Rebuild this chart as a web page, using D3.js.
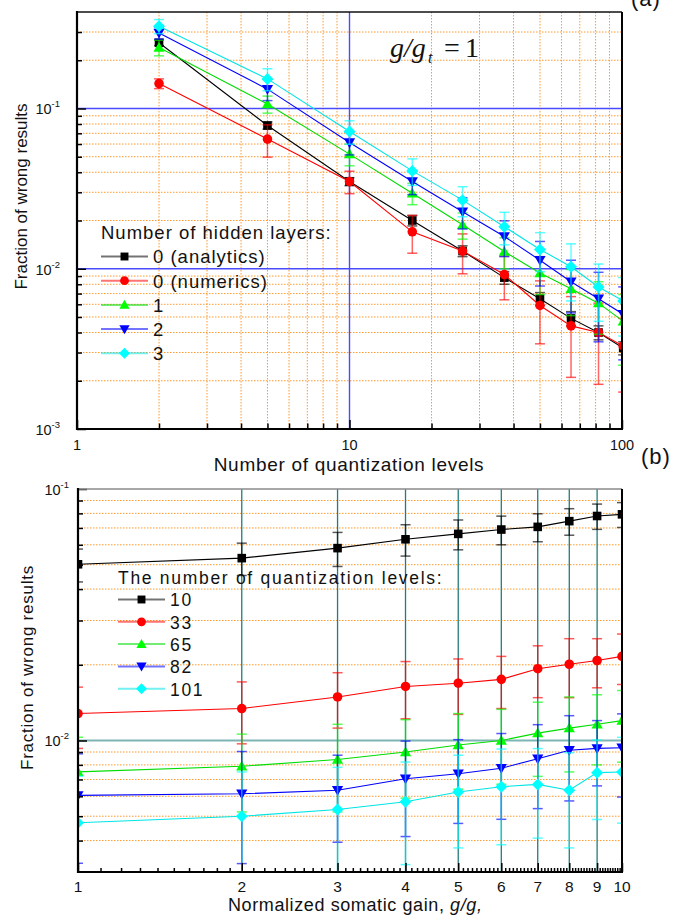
<!DOCTYPE html>
<html><head><meta charset="utf-8">
<script src="https://cdn.jsdelivr.net/npm/d3@7"></script>
<style>html,body{margin:0;padding:0;background:#fff}svg{display:block}</style>
</head><body>
<div id="chart"></div>
<script>
// ---------- data: panel (a) ----------
const quantLevels = [2, 5, 10, 17, 26, 37, 50, 65, 82, 101];
const analytics    = [0.257, 0.0783, 0.035, 0.020, 0.0129, 0.0088, 0.0065, 0.0049, 0.0040, 0.0032];
const analyticsErr = [0.010, 0.004, 0.002, 0.0015, 0.001, 0.0008, 0.0006, 0.0005, 0.0004, 0.0003];
const numerics     = [0.143, 0.0644, 0.035, 0.017, 0.0129, 0.0092, 0.0059, 0.0044, 0.0040, 0.0033];
const numericsErr  = [0.010, 0.0147, 0.0056, 0.0045, 0.0036, 0.0028, 0.0025, 0.0023, 0.0021, 0.0016];
const layers1      = [0.240, 0.1065, 0.0519, 0.0296, 0.0188, 0.0128, 0.0094, 0.0075, 0.0061, 0.0047];
const layers1Err   = [0.027, 0.013, 0.008, 0.0045, 0.0035, 0.0028, 0.0025, 0.0024, 0.0022, 0.0022];
const layers2      = [0.296, 0.132, 0.0613, 0.035, 0.0227, 0.0159, 0.0113, 0.0083, 0.0065, 0.0052];
const layers2Err   = [0.025, 0.020, 0.010, 0.006, 0.005, 0.004, 0.0035, 0.003, 0.003, 0.0025];
const layers3      = [0.326, 0.153, 0.0718, 0.0408, 0.0268, 0.0183, 0.0132, 0.0103, 0.0077, 0.0063];
const layers3Err   = [0.033, 0.024, 0.012, 0.0077, 0.0057, 0.0042, 0.0036, 0.004, 0.003, 0.0025];
const legendA = ["0 (analytics)", "0 (numerics)", "1", "2", "3"];

// ---------- data: panel (b) ----------
const gains = [1, 2, 3, 4, 5, 6, 7, 8, 9, 10];
const q10    = [0.0502, 0.0531, 0.0582, 0.0631, 0.0663, 0.0690, 0.0707, 0.0745, 0.0781, 0.0793];
const q10Err = [0.0075, 0.0078, 0.009, 0.009, 0.009, 0.009, 0.009, 0.009, 0.009, 0.009];
const q33    = [0.0128, 0.0134, 0.0149, 0.0164, 0.0169, 0.0175, 0.0193, 0.0201, 0.0208, 0.0216];
const q33Err = [0.0035, 0.0037, 0.0037, 0.0042, 0.0042, 0.0041, 0.0045, 0.0053, 0.0046, 0.0049];
const q65    = [0.0075, 0.0079, 0.0084, 0.0090, 0.0096, 0.0100, 0.0107, 0.0112, 0.0116, 0.0120];
const q65Err = [0.0028, 0.0027, 0.0032, 0.0031, 0.0032, 0.0033, 0.0035, 0.0037, 0.0036, 0.0038];
const q82    = [0.00605, 0.00614, 0.00634, 0.00705, 0.00738, 0.00776, 0.00846, 0.00915, 0.0093, 0.00936];
const q82Err = [0.0028, 0.0029, 0.0024, 0.0029, 0.0027, 0.0029, 0.0031, 0.0034, 0.0027, 0.0034];
const q101   = [0.00471, 0.0050, 0.00532, 0.00571, 0.00624, 0.00655, 0.00669, 0.00634, 0.00745, 0.00749];
const q101Err= [0.0025, 0.0025, 0.0025, 0.0025, 0.0025, 0.0027, 0.0026, 0.0026, 0.0026, 0.0028];
const legendB = ["10", "33", "65", "82", "101"];

// tick values
const xMajorA = [1, 10, 100];
const xMinorA = [2,3,4,5,6,7,8,9,20,30,40,50,60,70,80,90];
const yMajorA = [0.001, 0.01, 0.1];
const yMinorA = [0.002,0.003,0.004,0.005,0.006,0.007,0.008,0.009,0.02,0.03,0.04,0.05,0.06,0.07,0.08,0.09,0.2,0.3];
const yLabelsA = [["10","-3"],["10","-2"],["10","-1"]];
const xMajorB = [1,2,3,4,5,6,7,8,9,10];
const xMinorB = d3.range(11, 100).filter(v => v % 10 !== 0).map(v => v / 10);
const yMajorB = [0.01, 0.1];
const yMinorB = [0.004,0.005,0.006,0.007,0.008,0.009,0.02,0.03,0.04,0.05,0.06,0.07,0.08,0.09];
const yLabelsB = [["10","-2"],["10","-1"]];

// ---------- styles ----------
const colors = ["#000000", "#ff0000", "#00ff00", "#0000ff", "#00ffff"];
const lineColors = ["#000000", "#ff0000", "#00dd00", "#0000ff", "#00e5e5"];
const shapes = ["square", "circle", "triUp", "triDown", "diamond"];
const SANS = "'Liberation Sans', Arial, Helvetica, sans-serif";
const SERIF = "'Liberation Serif', 'Times New Roman', serif";

const W = 675, H = 917;
const svg = d3.select("#chart").append("svg").attr("width", W).attr("height", H)
  .style("font-family", SANS);

function markerPath(shape) {
  switch (shape) {
    case "square": return "M-4.3,-4.3H4.3V4.3H-4.3Z";
    case "circle": return d3.symbol(d3.symbolCircle, 72)();
    case "triUp": return "M0,-5.6L5.6,4.2L-5.6,4.2Z";
    case "triDown": return "M0,5.6L5.6,-4.2L-5.6,-4.2Z";
    case "diamond": return "M0,-6L6,0L0,6L-6,0Z";
  }
}

function drawPanel(cfg) {
  const { x, y, id } = cfg;
  const [x0, x1] = x.range();
  const [yb, yt] = y.range();
  const g = svg.append("g");

  svg.append("defs").append("clipPath").attr("id", id)
    .append("rect").attr("x", x0).attr("y", yt).attr("width", x1 - x0).attr("height", yb - yt);

  // grid
  const grid = g.append("g");
  cfg.hGridMinor.forEach(v => grid.append("line").attr("x1", x0).attr("x2", x1)
    .attr("y1", y(v)).attr("y2", y(v)).attr("stroke", "#ff9a2e").attr("stroke-width", 1)
    .attr("stroke-dasharray", "1.5,1.5"));
  cfg.vGridMinor.forEach(v => grid.append("line").attr("y1", yt).attr("y2", yb)
    .attr("x1", x(v)).attr("x2", x(v)).attr("stroke", "#ff9a2e").attr("stroke-width", 1)
    .attr("stroke-dasharray", "1.5,1.5"));
  cfg.hGridMajor.forEach(v => grid.append("line").attr("x1", x0).attr("x2", x1)
    .attr("y1", y(v)).attr("y2", y(v)).attr("stroke", cfg.hMajorColor).attr("stroke-width", cfg.hMajorWidth));
  cfg.vGridMajor.forEach(v => grid.append("line").attr("y1", yt).attr("y2", yb)
    .attr("x1", x(v)).attr("x2", x(v)).attr("stroke", cfg.vMajorColor).attr("stroke-width", cfg.vMajorWidth));

  // series
  const data = g.append("g").attr("clip-path", `url(#${id})`);
  cfg.series.forEach((s, i) => {
    const pts = cfg.xs.map((xv, j) => ({ x: xv, v: s.vals[j], e: s.err[j] }));
    const sg = data.append("g");
    pts.forEach(p => {
      const lo = Math.max(p.v - p.e, 1e-5), hi = p.v + p.e;
      const px = x(p.x);
      sg.append("line").attr("x1", px).attr("x2", px).attr("y1", y(lo)).attr("y2", y(hi))
        .attr("stroke", colors[i]).attr("stroke-opacity", 0.6).attr("stroke-width", 1.5);
      [lo, hi].forEach(v => sg.append("line").attr("x1", px - 5).attr("x2", px + 5)
        .attr("y1", y(v)).attr("y2", y(v)).attr("stroke", colors[i]).attr("stroke-opacity", 0.65)
        .attr("stroke-width", 1.5));
    });
    sg.append("path").datum(pts)
      .attr("d", d3.line().x(p => x(p.x)).y(p => y(p.v)))
      .attr("fill", "none").attr("stroke", lineColors[i]).attr("stroke-width", 1.1);
    sg.selectAll("path.m").data(pts).enter().append("path").attr("class", "m")
      .attr("d", markerPath(shapes[i]))
      .attr("transform", p => `translate(${x(p.x)},${y(p.v)})`)
      .attr("fill", colors[i]);
  });

  // ticks via axes (inward)
  const axG = g.append("g");
  const mk = (axis, tr) => {
    const a = axG.append("g").attr("transform", tr).call(axis);
    a.select(".domain").remove();
    a.selectAll("line").attr("stroke", "#000").attr("stroke-width", 1.5);
    a.selectAll("text").remove();
  };
  mk(d3.axisBottom(x).tickValues(cfg.xMajor).tickSize(-9), `translate(0,${yb})`);
  mk(d3.axisBottom(x).tickValues(cfg.xMinor).tickSize(-cfg.xMinorLen), `translate(0,${yb})`);
  mk(d3.axisLeft(y).tickValues(cfg.yMajor).tickSize(-9), `translate(${x0},0)`);
  mk(d3.axisLeft(y).tickValues(cfg.yMinor).tickSize(-5), `translate(${x0},0)`);

  // frame
  g.append("line").attr("x1", x0).attr("x2", x1).attr("y1", yt).attr("y2", yt)
    .attr("stroke", cfg.topColor).attr("stroke-width", 1.6);
  g.append("line").attr("x1", x1).attr("x2", x1).attr("y1", yt).attr("y2", yb)
    .attr("stroke", "#000").attr("stroke-width", 2);
  g.append("line").attr("x1", x0).attr("x2", x0).attr("y1", yt - 1).attr("y2", yb + 1)
    .attr("stroke", "#000").attr("stroke-width", 2.2);
  g.append("line").attr("x1", x0 - 1).attr("x2", x1 + 1).attr("y1", yb).attr("y2", yb)
    .attr("stroke", "#000").attr("stroke-width", 2.2);

  // tick labels
  cfg.xMajor.forEach(v => g.append("text").attr("x", x(v)).attr("y", cfg.xLabelY)
    .attr("text-anchor", "middle").attr("font-size", cfg.xLabelSize).attr("fill", "#111")
    .text(d3.format("d")(v)));
  cfg.yMajor.forEach((v, k) => {
    const t = g.append("text").attr("x", cfg.yLabelX).attr("y", y(v) + 6)
      .attr("text-anchor", "end").attr("font-size", 14.5).attr("fill", "#111");
    t.append("tspan").text(cfg.yLabels[k][0]);
    t.append("tspan").attr("font-size", 9.5).attr("dy", -7).text(cfg.yLabels[k][1]);
  });

  // legend
  const lg = g.append("g");
  lg.append("text").attr("x", cfg.legend.x).attr("y", cfg.legend.headY)
    .attr("font-size", cfg.legend.fs).attr("letter-spacing", cfg.legend.ls).attr("fill", "#111")
    .text(cfg.legend.title);
  cfg.legend.labels.forEach((lab, i) => {
    const cy = cfg.legend.y0 + i * cfg.legend.dy;
    const lx = cfg.legend.x;
    lg.append("line").attr("x1", lx).attr("x2", lx + 47).attr("y1", cy).attr("y2", cy)
      .attr("stroke", lineColors[i]).attr("stroke-opacity", 0.55).attr("stroke-width", 2);
    lg.append("path").attr("d", markerPath(shapes[i]))
      .attr("transform", `translate(${lx + 23.5},${cy}) scale(0.92)`).attr("fill", colors[i]);
    lg.append("text").attr("x", lx + 52).attr("y", cy + 6.8)
      .attr("font-size", cfg.legend.fs).attr("letter-spacing", cfg.legend.ls).attr("fill", "#111").text(lab);
  });
}

// ---------- panel (a) ----------
const xA = d3.scaleLog().domain([1, 100]).range([77, 622]);
const yA = d3.scaleLog().domain([1e-3, 0.4]).range([429, 12]);
drawPanel({
  id: "clipA", x: xA, y: yA, xs: quantLevels,
  series: [
    { vals: analytics, err: analyticsErr }, { vals: numerics, err: numericsErr },
    { vals: layers1, err: layers1Err }, { vals: layers2, err: layers2Err }, { vals: layers3, err: layers3Err }
  ],
  hGridMinor: yMinorA, vGridMinor: xMinorA, hGridMajor: [0.01, 0.1], vGridMajor: [10],
  hMajorColor: "#4a4aff", hMajorWidth: 1.4, vMajorColor: "#4a4aff", vMajorWidth: 1.4,
  xMajor: xMajorA, xMinor: xMinorA, xMinorLen: 5.5, yMajor: yMajorA, yMinor: yMinorA,
  yLabels: yLabelsA, yLabelX: 60, xLabelY: 450, xLabelSize: 14.5, topColor: "#111",
  legend: { x: 101, headY: 239, title: "Number of hidden layers:", labels: legendA,
            y0: 256.5, dy: 24.2, fs: 18.5, ls: 1 }
});

// ---------- panel (b) ----------
const xB = d3.scaleLog().domain([1, 10]).range([78, 622]);
const yB = d3.scaleLog().domain([0.003, 0.1]).range([872, 489]);
drawPanel({
  id: "clipB", x: xB, y: yB, xs: gains,
  series: [
    { vals: q10, err: q10Err }, { vals: q33, err: q33Err }, { vals: q65, err: q65Err },
    { vals: q82, err: q82Err }, { vals: q101, err: q101Err }
  ],
  hGridMinor: yMinorB, vGridMinor: [], hGridMajor: [0.01], vGridMajor: [2,3,4,5,6,7,8,9],
  hMajorColor: "#7fb4b4", hMajorWidth: 2.2, vMajorColor: "#237c7c", vMajorWidth: 1.3,
  xMajor: xMajorB, xMinor: xMinorB, xMinorLen: 4, yMajor: yMajorB, yMinor: yMinorB,
  yLabels: yLabelsB, yLabelX: 69, xLabelY: 892, xLabelSize: 15.5, topColor: "#8a8a8a",
  legend: { x: 118, headY: 584, title: "The number of quantization levels:", labels: legendB,
            y0: 599.5, dy: 22.3, fs: 17.5, ls: 1.7 }
});

// ---------- titles & labels ----------
svg.append("text").attr("x", 349).attr("y", 471).attr("text-anchor", "middle")
  .attr("font-size", 19).attr("letter-spacing", 0.7).attr("fill", "#111")
  .text("Number of quantization levels");
svg.append("text").attr("transform", "translate(27,196.5) rotate(-90)").attr("text-anchor", "middle")
  .attr("font-size", 17).attr("fill", "#111").text("Fraction of wrong results");
svg.append("text").attr("transform", "translate(33,667.5) rotate(-90)").attr("text-anchor", "middle")
  .attr("font-size", 17).attr("letter-spacing", 0.75).attr("fill", "#111").text("Fraction of wrong results");
const bt = svg.append("text").attr("x", 228).attr("y", 911)
  .attr("font-size", 18).attr("letter-spacing", 0.6).attr("fill", "#111");
bt.append("tspan").text("Normalized somatic gain, ");
bt.append("tspan").attr("font-style", "italic").text("g/g,");

// panel letters
svg.append("text").attr("x", 631).attr("y", 6).attr("font-size", 22).attr("letter-spacing", 1)
  .attr("fill", "#111").text("(a)");
svg.append("text").attr("x", 641).attr("y", 464).attr("font-size", 22).attr("letter-spacing", 1)
  .attr("fill", "#111").text("(b)");

// g/g_t = 1 annotation
const ann = svg.append("g").attr("font-family", SERIF).attr("fill", "#111");
ann.append("text").attr("x", 390).attr("y", 57).attr("font-size", 28).attr("font-style", "italic").text("g/g");
ann.append("text").attr("x", 428).attr("y", 63).attr("font-size", 16).attr("font-style", "italic").text("t");
ann.append("text").attr("x", 444).attr("y", 57).attr("font-size", 28).text("=");
ann.append("text").attr("x", 465).attr("y", 57).attr("font-size", 28).text("1");
</script>
</body></html>
